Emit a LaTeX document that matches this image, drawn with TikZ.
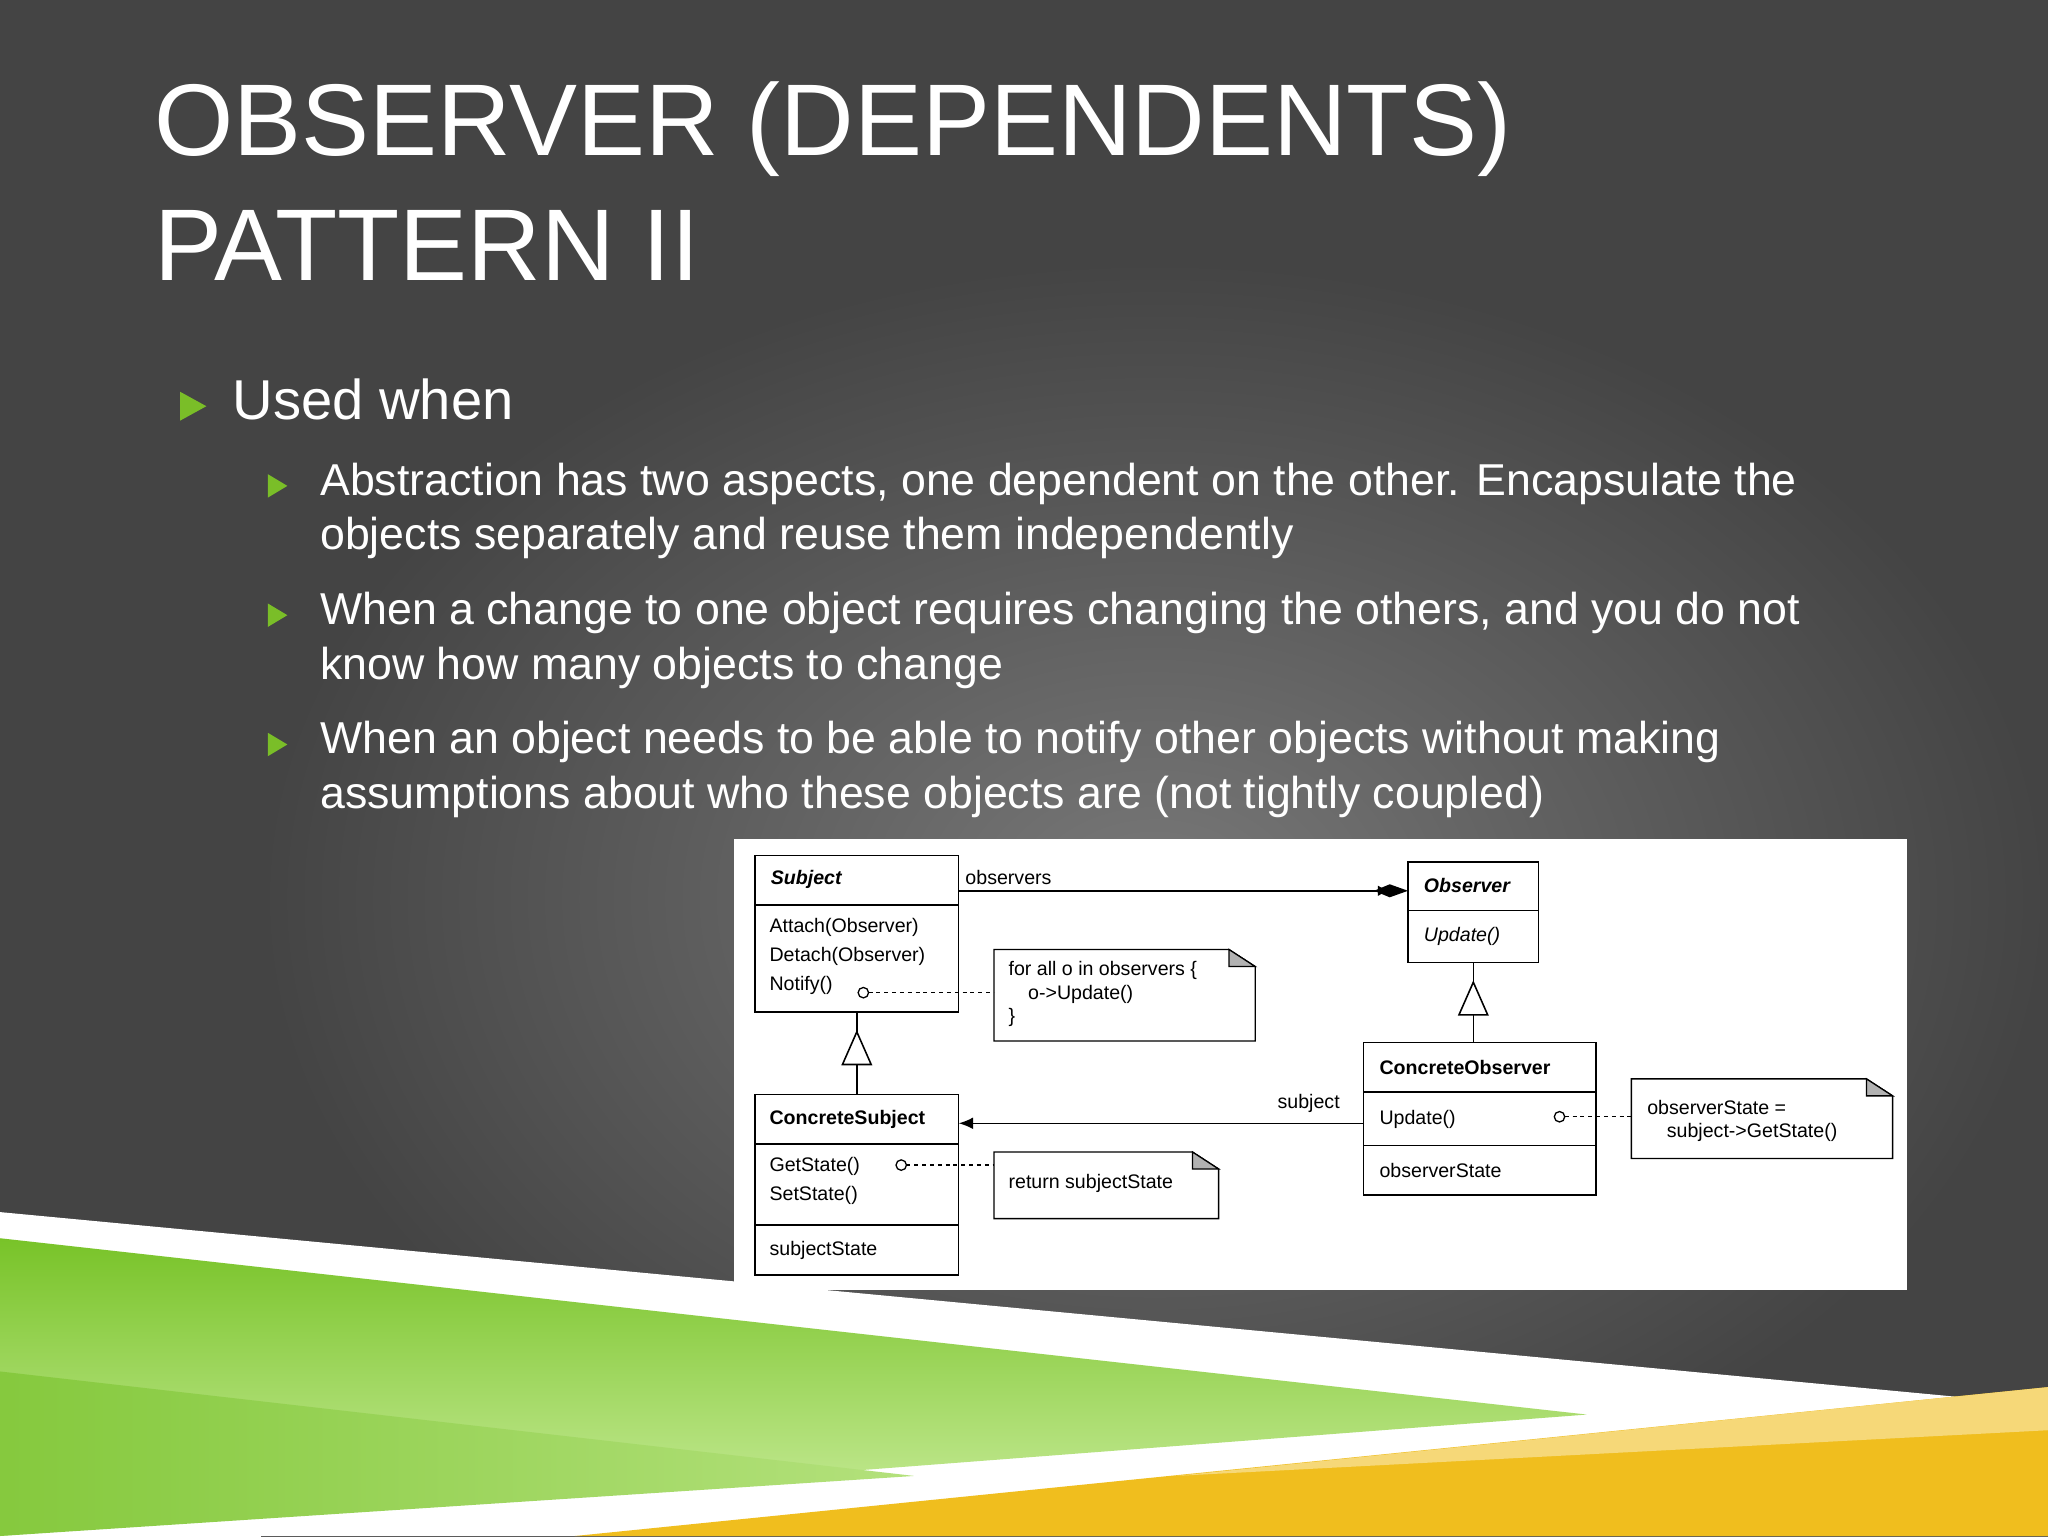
\documentclass[tikz,border=0pt]{standalone}
\usepackage{fontspec}
\setmainfont{Liberation Sans}
\usetikzlibrary{arrows.meta,shapes.geometric,calc}
\definecolor{bggray}{RGB}{120,120,120}
\definecolor{bgdark}{RGB}{68,68,68}
\definecolor{bullgreen}{RGB}{122,190,40}
\definecolor{lgreen}{RGB}{205,238,160}
\definecolor{dgreen}{RGB}{120,195,40}
\definecolor{yel}{RGB}{240,190,30}
\tikzset{
 uml/.style={draw=black,line width=1.2pt},
 umltxt/.style={font=\fontsize{15}{17}\selectfont,anchor=west,inner sep=0pt,align=left},
 bul/.style={fill=bullgreen,draw=none},
 body/.style={font=\fontsize{34.2}{42}\selectfont,text=white,anchor=north west,align=left,inner sep=0pt},
 dsh/.style={draw=black,dashed,line width=1pt}
}
\begin{document}
\begin{tikzpicture}[x=1pt,y=-1pt]
\useasboundingbox (0,0) rectangle (1568,1176);
\fill[bgdark] (0,0) rectangle (1568,1176);
\shade[inner color=bggray,outer color=bgdark] (200,200) rectangle (1568,1176);
% bottom bands
\fill[white] (0,928) -- (1568,1076) -- (1568,1176) -- (0,1176) -- cycle;
\shade[left color=dgreen,right color=lgreen,shading angle=0] (0,948) -- (1215,1083) -- (0,1176) -- cycle;
\shade[left color=dgreen!90,right color=lgreen!70!dgreen] (0,1050) -- (700,1130) -- (0,1176) -- cycle;
\fill[yel] (440,1176) -- (1568,1062) -- (1568,1176) -- cycle;
\fill[yel!60!white] (900,1130) -- (1568,1062) -- (1568,1095) -- cycle;
% title
\node[anchor=north west,inner sep=0pt,text=white,font=\fontsize{78}{96}\selectfont,align=left] (title) at (118,62) {OBSERVER (DEPENDENTS)\\PATTERN II};
% bullets
\fill[bul] (138,300) -- (158,311) -- (138,322) -- cycle;
\node[anchor=north west,inner sep=0pt,text=white,font=\fontsize{43}{50}\selectfont] (uw) at (178,290) {Used when};
\foreach \y in {363,462,561}{\fill[bul] (205,\y) -- (220,\y+9) -- (205,\y+18) -- cycle;}
\node[body] (b1) at (245,354) {Abstraction has two aspects, one dependent on the other. Encapsulate the\\objects separately and reuse them independently};
\node[body] (b2) at (245,453) {When a change to one object requires changing the others, and you do not\\know how many objects to change};
\node[body] (b3) at (245,552) {When an object needs to be able to notify other objects without making\\assumptions about who these objects are (not tightly coupled)};
% diagram
\fill[white] (562,642) rectangle (1460,988);
% Subject
\draw[uml] (578,655) rectangle (734,775); \draw[uml] (578,693)--(734,693);
\node[umltxt,font=\fontsize{15}{17}\selectfont\bfseries\itshape] (subj) at (590,673) {Subject};
\node[umltxt,anchor=north west,font=\fontsize{15}{22}\selectfont] (subjops) at (589,703) {Attach(Observer)\\Detach(Observer)\\Notify()};
% ConcreteSubject
\draw[uml] (578,838) rectangle (734,976); \draw[uml] (578,876)--(734,876); \draw[uml] (578,938)--(734,938);
\node[umltxt,font=\fontsize{15}{17}\selectfont\bfseries] (cs) at (589,857) {ConcreteSubject};
\node[umltxt,anchor=north west,font=\fontsize{15}{22}\selectfont] (csops) at (589,886) {GetState()\\SetState()};
\node[umltxt] (csst) at (589,957) {subjectState};
% Observer
\draw[uml] (1078,660) rectangle (1178,737); \draw[uml] (1078,697)--(1178,697);
\node[umltxt,font=\fontsize{15}{17}\selectfont\bfseries\itshape] (obs) at (1090,678) {Observer};
\node[umltxt,font=\fontsize{15}{17}\selectfont\itshape] (obsu) at (1090,717) {Update()};
% ConcreteObserver
\draw[uml] (1044,798) rectangle (1222,915); \draw[uml] (1044,836)--(1222,836); \draw[uml] (1044,877)--(1222,877);
\node[umltxt,font=\fontsize{15}{17}\selectfont\bfseries] (co) at (1056,817) {ConcreteObserver};
\node[umltxt] (cou) at (1056,857) {Update()};
\node[umltxt] (cost) at (1056,896) {observerState};
% inheritance
\draw[uml,fill=white] (656,790) -- (645,815) -- (667,815) -- cycle; \draw[uml] (656,815)--(656,838); \draw[uml] (656,775)--(656,790);
\draw[uml,fill=white] (1128,752) -- (1117,777) -- (1139,777) -- cycle; \draw[uml] (1128,777)--(1128,798); \draw[uml] (1128,737)--(1128,752);
% associations
\coordinate (a1) at (734,682); \coordinate (a2) at (1078,682);
\draw[uml,-{Latex[length=9pt,width=8pt]}] (a1) -- ($(a2)+(-14,0)$);
\fill (1052,682) -- (1064,677) -- (1078,682) -- (1064,687) -- cycle;
\node[umltxt] (obslbl) at (739,672) {observers};
\coordinate (s1) at (1044,860); \coordinate (s2) at (734,860);
\draw[uml,-{Latex[length=11pt,width=9pt]}] (s1) -- (s2);
\node[umltxt] (sublbl) at (978,845) {subject};
% notes
\newcommand\note[5]{\draw[uml,line width=1pt] (#1,#2) -- (#3-20,#2) -- (#3,#2+13) -- (#3,#4) -- (#1,#4) -- cycle;
 \draw[line width=1pt,fill=gray!60] (#3-20,#2) -- (#3-20,#2+13) -- (#3,#2+13) -- cycle;}
\note{761}{727}{961}{797}{}
\node[umltxt,anchor=north west,font=\fontsize{15}{18}\selectfont] (n1) at (772,736) {for all o in observers \{\\\quad o->Update()\\\}};
\note{761}{882}{933}{933}{}
\node[umltxt] (n2) at (772,906) {return subjectState};
\note{1249}{826}{1449}{887}{}
\node[umltxt,anchor=north west,font=\fontsize{15}{18}\selectfont] (n3) at (1261,842) {observerState =\\\quad subject->GetState()};
% dashed links
\draw[line width=1pt] (661,760) circle (4); \draw[dsh] (665,760) -- (761,760);
\draw[line width=1pt] (690,892) circle (4); \draw[dsh] (694,892) -- (761,892);
\draw[line width=1pt] (1194,855) circle (4); \draw[dsh] (1198,855) -- (1249,855);
\end{tikzpicture}
\end{document}
